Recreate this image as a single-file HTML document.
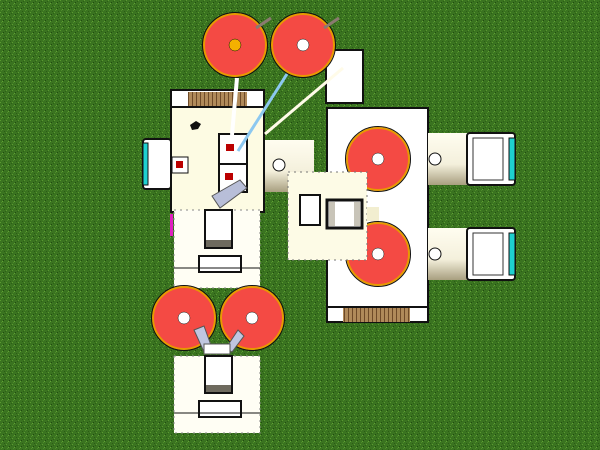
<!DOCTYPE html>
<html><head><meta charset="utf-8"><style>
html,body{margin:0;padding:0;width:600px;height:450px;overflow:hidden;background:#3a7320}
svg{display:block}
</style></head><body>
<svg width="600" height="450" viewBox="0 0 600 450" xmlns="http://www.w3.org/2000/svg">
<defs>
<pattern id="grass" width="6" height="6" patternUnits="userSpaceOnUse">
<rect width="6" height="6" fill="#3a7320"/>
<rect x="0" y="0" width="1" height="1" fill="#5a9a30"/>
<rect x="3" y="2" width="1" height="1" fill="#204a10"/>
<rect x="1" y="4" width="1" height="1" fill="#4e8c2a"/>
<rect x="4" y="5" width="1" height="1" fill="#2a5c14"/>
<rect x="5" y="1" width="1" height="1" fill="#2c6016"/>
<rect x="2" y="3" width="1" height="1" fill="#62a236"/>
</pattern>
<linearGradient id="cyl" x1="0" y1="0" x2="0" y2="1">
<stop offset="0" stop-color="#fffdf0"/><stop offset="0.6" stop-color="#f4f0dc"/><stop offset="1" stop-color="#a89f80"/>
</linearGradient>
<pattern id="wood" width="4" height="10" patternUnits="userSpaceOnUse">
<rect width="4" height="10" fill="#b08a5a"/><rect width="1" height="10" fill="#6e4a28"/>
</pattern>
<g id="reel">
<circle r="31" fill="#f44a44" stroke="#e89a00" stroke-width="2"/>
<circle r="32.5" fill="none" stroke="#111" stroke-width="1"/>
</g>
<g id="truck">
<rect x="0" y="0" width="48" height="52" fill="#fff" stroke="#111" stroke-width="2" rx="3"/>
<rect x="6" y="5" width="30" height="42" fill="#fff" stroke="#333" stroke-width="1"/>
<rect x="42" y="5" width="6" height="42" fill="#1ed0d0" stroke="#111"/>
</g>
</defs>
<rect width="600" height="450" fill="url(#grass)"/>

<rect x="326" y="50" width="37" height="53" fill="#fff" stroke="#111" stroke-width="2"/>

<rect x="327" y="108" width="101" height="214" fill="#fff" stroke="#111" stroke-width="2"/>
<rect x="343" y="307" width="67" height="15" fill="url(#wood)"/>
<line x1="327" y1="307" x2="428" y2="307" stroke="#111" stroke-width="2"/>

<rect x="428" y="133" width="40" height="52" fill="url(#cyl)"/>
<circle cx="435" cy="159" r="6" fill="#fff" stroke="#111"/>
<rect x="428" y="228" width="40" height="52" fill="url(#cyl)"/>
<circle cx="435" cy="254" r="6" fill="#fff" stroke="#111"/>
<use href="#truck" x="467" y="133"/>
<use href="#truck" x="467" y="228"/>

<use href="#reel" x="378" y="159"/><circle cx="378" cy="159" r="6" fill="#fff" stroke="#111" stroke-width="0.5"/>
<use href="#reel" x="378" y="254"/><circle cx="378" cy="254" r="6" fill="#fff" stroke="#111" stroke-width="0.5"/>

<rect x="262" y="140" width="52" height="52" fill="url(#cyl)"/>
<circle cx="279" cy="165" r="6" fill="#fff" stroke="#111"/>

<rect x="288" y="172" width="79" height="88" fill="#fdfbe6" stroke="#777" stroke-width="1" stroke-dasharray="2,4"/>
<rect x="367" y="207" width="12" height="14" fill="#f2eed0"/>
<rect x="300" y="195" width="20" height="30" fill="#fff" stroke="#111" stroke-width="2"/>
<rect x="327" y="200" width="35" height="28" fill="#fff" stroke="#111" stroke-width="3"/>
<rect x="329" y="202" width="6" height="24" fill="#c8c4b8"/>
<rect x="354" y="202" width="6" height="24" fill="#c8c4b8"/>

<rect x="171" y="90" width="93" height="122" fill="#fdfbe3" stroke="#111" stroke-width="2"/>
<rect x="171" y="90" width="93" height="17" fill="#fff" stroke="#111" stroke-width="2"/>
<rect x="188" y="92" width="59" height="14" fill="url(#wood)"/>
<path d="M190 125 l6 -4 l5 3 l-3 5 l-6 1z" fill="#111"/>
<rect x="219" y="134" width="28" height="30" fill="#fff" stroke="#111" stroke-width="2"/>
<rect x="226" y="144" width="8" height="7" fill="#b00"/>
<rect x="219" y="164" width="28" height="28" fill="#fff" stroke="#111" stroke-width="2"/>
<rect x="225" y="173" width="8" height="7" fill="#b00"/>
<polygon points="212,196 240,180 247,188 220,208" fill="#b8bed8" stroke="#555"/>
<rect x="172" y="157" width="16" height="16" fill="#fff" stroke="#111"/>
<rect x="176" y="161" width="7" height="7" fill="#b00"/>
<rect x="143" y="139" width="28" height="50" fill="#fff" stroke="#111" stroke-width="2" rx="3"/>
<rect x="143" y="143" width="5" height="42" fill="#1ed0d0" stroke="#111"/>

<rect x="174" y="210" width="86" height="78" fill="#fffef4" stroke="#888" stroke-dasharray="2,4"/>
<rect x="170" y="214" width="3" height="22" fill="#e020c0"/>
<rect x="205" y="210" width="27" height="38" fill="#fff" stroke="#111" stroke-width="2"/>
<rect x="206" y="240" width="25" height="7" fill="#6e6a5e"/>
<rect x="199" y="256" width="42" height="16" fill="#fff" stroke="#111" stroke-width="2"/>
<line x1="174" y1="268" x2="260" y2="268" stroke="#111"/>

<use href="#reel" x="184" y="318"/><circle cx="184" cy="318" r="6" fill="#fff" stroke="#111" stroke-width="0.5"/>
<use href="#reel" x="252" y="318"/><circle cx="252" cy="318" r="6" fill="#fff" stroke="#111" stroke-width="0.5"/>
<polygon points="194,330 204,326 212,348 204,352" fill="#c0c6e0" stroke="#555"/>
<polygon points="238,330 244,336 232,352 226,348" fill="#c0c6e0" stroke="#555"/>

<rect x="174" y="356" width="86" height="77" fill="#fffef4" stroke="#888" stroke-dasharray="2,4"/>
<rect x="204" y="344" width="26" height="10" fill="#fff" stroke="#555"/>
<rect x="205" y="356" width="27" height="37" fill="#fff" stroke="#111" stroke-width="2"/>
<rect x="206" y="385" width="25" height="7" fill="#6e6a5e"/>
<rect x="199" y="401" width="42" height="16" fill="#fff" stroke="#111" stroke-width="2"/>
<line x1="174" y1="413" x2="260" y2="413" stroke="#111"/>

<use href="#reel" x="235" y="45"/><circle cx="235" cy="45" r="6" fill="#f4b000" stroke="#111" stroke-width="0.5"/>
<use href="#reel" x="303" y="45"/><circle cx="303" cy="45" r="6" fill="#fff" stroke="#111" stroke-width="0.5"/>
<line x1="256" y1="28" x2="271" y2="18" stroke="#8a7a70" stroke-width="3"/>
<line x1="324" y1="28" x2="339" y2="18" stroke="#8a7a70" stroke-width="3"/>

<line x1="237" y1="78" x2="232" y2="135" stroke="#fff" stroke-width="4"/>
<line x1="287" y1="74" x2="238" y2="151" stroke="#8cc8f0" stroke-width="3"/>
<line x1="343" y1="68" x2="265" y2="134" stroke="#fffbe8" stroke-width="3"/>
</svg>
</body></html>
